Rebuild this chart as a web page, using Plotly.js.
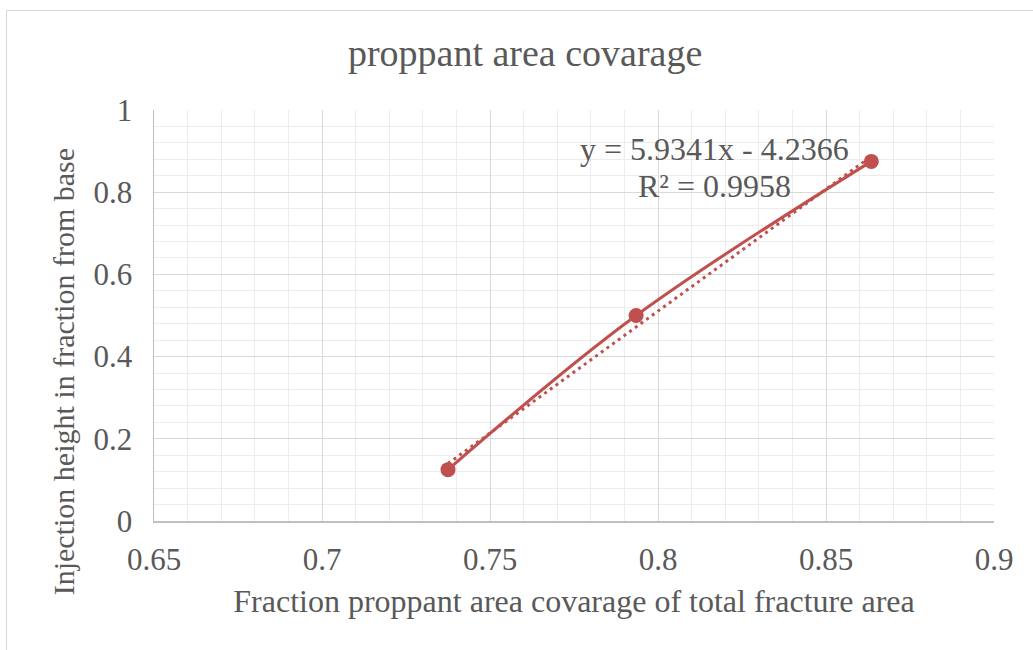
<!DOCTYPE html>
<html>
<head>
<meta charset="utf-8">
<script src="https://cdn.plot.ly/plotly-3.0.1.min.js"></script>
<style>
  html, body { margin: 0; padding: 0; background: #ffffff; width: 1033px; height: 650px; overflow: hidden; }
  #frame {
    position: absolute; left: 6px; top: 10px; width: 1027px; height: 640px;
    border-left: 1px solid #d9d9d9; border-top: 1px solid #d9d9d9; box-sizing: border-box;
  }
  #chart { width: 1026px; height: 639px; }
</style>
</head>
<body>
<div id="frame"><div id="chart"></div></div>
<script>
// Measured points: proppant coverage fraction vs injection height fraction
const coverage = [0.7375, 0.7935, 0.8635];
const injectionHeight = [0.125, 0.5, 0.875];

// Linear trendline as reported
const trendSlope = 5.9341;
const trendIntercept = -4.2366;
const trendR2 = 0.9958;

// Axis ticks
const xTickVals = [0.65, 0.7, 0.75, 0.8, 0.85, 0.9];
const xTickText = ['0.65', '0.7', '0.75', '0.8', '0.85', '0.9'];
const yTickVals = [0, 0.2, 0.4, 0.6, 0.8, 1];
const yTickText = ['0', '0.2', '0.4', '0.6', '0.8', '1'];

const red = '#c0504d';
const textGray = '#595959';
const serif = '"Liberation Serif", "Times New Roman", serif';

const trendX = [Math.min(...coverage), Math.max(...coverage)];
const trendY = trendX.map(x => trendSlope * x + trendIntercept);

const data = [
  {
    x: trendX, y: trendY, type: 'scatter', mode: 'lines',
    line: { color: red, width: 3, dash: '3px,4px' },
    hoverinfo: 'skip', showlegend: false
  },
  {
    x: coverage, y: injectionHeight, type: 'scatter', mode: 'lines+markers',
    line: { color: red, width: 3, shape: 'spline', smoothing: 1 },
    marker: { color: red, size: 15 },
    showlegend: false
  }
];

const eqText = 'y = ' + trendSlope.toFixed(4) + 'x - ' + Math.abs(trendIntercept).toFixed(4);
const r2Text = 'R² = ' + trendR2.toFixed(4);

const layout = {
  width: 1026, height: 639,
  margin: { l: 147, r: 39, t: 99, b: 129 },
  paper_bgcolor: '#ffffff', plot_bgcolor: '#ffffff',
  font: { family: serif, color: textGray, size: 31 },
  title: {
    text: 'proppant area covarage',
    font: { family: serif, size: 38, color: textGray },
    x: 0.505, xanchor: 'center', y: 0.934, yanchor: 'middle'
  },
  xaxis: {
    range: [0.65, 0.9],
    tickvals: xTickVals, ticktext: xTickText,
    showgrid: true, gridcolor: '#d9d9d9', gridwidth: 1,
    minor: { dtick: 0.01, showgrid: true, gridcolor: '#ececec', gridwidth: 1 },
    showline: true, linecolor: '#bfbfbf', linewidth: 1.5,
    zeroline: false, ticks: '', ticklabelstandoff: 10,
    tickfont: { family: serif, size: 31, color: textGray },
    title: {
      text: 'Fraction proppant area covarage of total fracture area',
      font: { family: serif, size: 32, color: textGray }, standoff: 14
    }
  },
  yaxis: {
    range: [0, 1],
    tickvals: yTickVals, ticktext: yTickText,
    showgrid: true, gridcolor: '#d9d9d9', gridwidth: 1,
    minor: { dtick: 0.04, showgrid: true, gridcolor: '#ececec', gridwidth: 1 },
    showline: true, linecolor: '#bfbfbf', linewidth: 1.5,
    zeroline: false, ticks: '', ticklabelstandoff: 14,
    tickfont: { family: serif, size: 31, color: textGray }
  },
  annotations: [
    { x: -0.108, y: 0.3625, xref: 'paper', yref: 'paper', text: 'Injection height in fraction from base',
      textangle: -90, showarrow: false, xanchor: 'center', yanchor: 'middle',
      font: { family: serif, size: 30, color: textGray } },
    { x: 0.8168, y: 0.904, xref: 'x', yref: 'y', text: eqText, showarrow: false,
      xanchor: 'center', yanchor: 'middle', font: { family: serif, size: 32, color: textGray } },
    { x: 0.8168, y: 0.816, xref: 'x', yref: 'y', text: r2Text, showarrow: false,
      xanchor: 'center', yanchor: 'middle', font: { family: serif, size: 32, color: textGray } }
  ],
  hovermode: false
};

Plotly.newPlot('chart', data, layout, { displayModeBar: false, staticPlot: true });
</script>
</body>
</html>
